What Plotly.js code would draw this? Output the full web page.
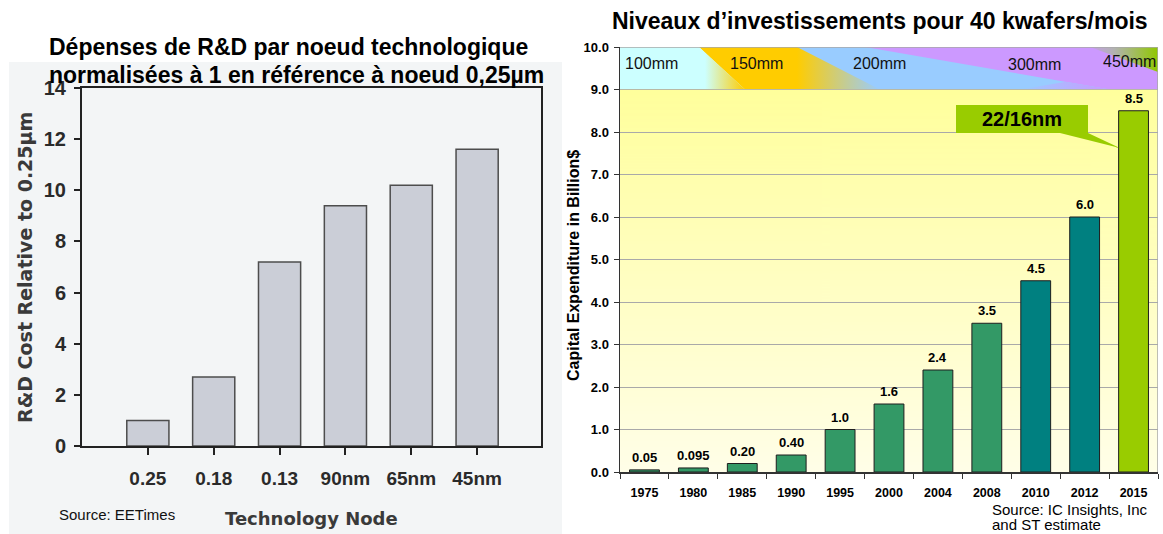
<!DOCTYPE html>
<html><head><meta charset="utf-8">
<script src="https://cdn.plot.ly/plotly-3.0.1.min.js"></script>
<style>html,body{margin:0;padding:0;background:#fff}#chart{width:1163px;height:534px}</style>
</head><body><div id="chart"></div>
<script>
// ---------- left chart data ----------
const nodes = ['0.25', '0.18', '0.13', '90nm', '65nm', '45nm'];
const rdCost = [1.0, 2.7, 7.2, 9.4, 10.2, 11.6];

// ---------- right chart data ----------
const years = ['1975', '1980', '1985', '1990', '1995', '2000', '2004', '2008', '2010', '2012', '2015'];
const capex = [0.05, 0.095, 0.20, 0.40, 1.0, 1.6, 2.4, 3.5, 4.5, 6.0, 8.5];
const capexLabels = ['0.05', '0.095', '0.20', '0.40', '1.0', '1.6', '2.4', '3.5', '4.5', '6.0', '8.5'];
const barGroup = ['g', 'g', 'g', 'g', 'g', 'g', 'g', 'g', 't', 't', 'l'];
const waferSizes = ['100mm', '150mm', '200mm', '300mm', '450mm'];
const calloutText = '22/16nm';

// ---------- styling ----------
const W = 1163, H = 534;
const px = x => x / W;
const py = y => 1 - y / H;
const ARIAL = 'Liberation Sans, Arial, sans-serif';
const NARROW = 'Liberation Sans Narrow, Arial Narrow, Liberation Sans, sans-serif';
const DEJAVU = 'DejaVu Sans, sans-serif';
const groupColor = {g: '#339966', t: '#008080', l: '#99cc00'};
const xIdx = years.map((_, i) => i);

function gradientURL(top, bottom) {
  const c = document.createElement('canvas');
  c.width = 4; c.height = 256;
  const g = c.getContext('2d');
  const gr = g.createLinearGradient(0, 0, 0, 256);
  gr.addColorStop(0, top); gr.addColorStop(1, bottom);
  g.fillStyle = gr; g.fillRect(0, 0, 4, 256);
  return c.toDataURL();
}

// decorative wafer-size band polygons (x in category index units, y in axis units)
const C_CYAN = '#ccffff', C_OR = '#ffcc00', C_BLUE = '#99ccff', C_PUR = '#cc99ff';
const bandShapes = [
  {pts: [[-0.5, 10], [10.5, 10], [10.5, 9], [-0.5, 9]], color: C_CYAN},
  {pts: [[1.115, 10], [3.119, 10], [3.119, 9], [2.056, 9]], color: C_OR},
  {pts: [[1.115, 10], [2.056, 9], [1.238, 9]], grad: [1.238, 2.056, [[0, C_CYAN], [1, C_OR]]]},
  {pts: [[3.119, 10], [10.5, 10], [10.5, 9], [3.119, 9]], color: C_BLUE},
  {pts: [[3.119, 10], [4.816, 9], [3.119, 9]], grad: [3.119, 4.816, [[0, C_OR], [1, C_BLUE]]]},
  {pts: [[4.509, 10], [10.5, 10], [10.5, 9], [9.519, 9]], color: C_PUR},
  {pts: [[7.68, 9], [9.519, 9], [8.617, 9.18]], grad: [7.68, 9.519, [[0, C_BLUE], [1, C_PUR]]]},
  {pts: [[9.11, 10], [10.5, 10], [10.5, 9.41]], grad: [9.11, 10.5, [[0, '#c49ee8'], [0.35, '#b2b2b2'], [1, '#90c800']]]}
];
const bandLabelPos = [[0.154, 9.6], [2.30, 9.6], [4.80, 9.6], [7.965, 9.58], [9.907, 9.66]];

const traces = [];
traces.push({
  type: 'bar', x: nodes, y: rdCost, xaxis: 'x', yaxis: 'y', width: 0.64,
  marker: {color: '#cbced7', line: {color: '#4d4d4d', width: 1.5}},
  hoverinfo: 'skip'
});
traces.push({
  type: 'bar', x: xIdx, y: capex, xaxis: 'x2', yaxis: 'y2', width: 0.61,
  marker: {color: barGroup.map(g => groupColor[g]), line: {color: '#1e1e1e', width: 1}},
  hoverinfo: 'skip'
});
bandShapes.forEach(b => {
  const t = {
    type: 'scatter', mode: 'none', fill: 'toself', xaxis: 'x2', yaxis: 'y2',
    x: b.pts.map(p => p[0]).concat([b.pts[0][0]]),
    y: b.pts.map(p => p[1]).concat([b.pts[0][1]]),
    hoverinfo: 'skip', line: {width: 0}
  };
  if (b.grad) t.fillgradient = {type: 'horizontal', start: b.grad[0], stop: b.grad[1], colorscale: b.grad[2]};
  else t.fillcolor = b.color;
  traces.push(t);
});

function paperText(x, y, text, font, extra) {
  return Object.assign({xref: 'paper', yref: 'paper', x: px(x), y: py(y), xanchor: 'center', yanchor: 'middle',
    showarrow: false, text: text, font: font}, extra || {});
}

const annotations = [];
// titles
annotations.push(paperText(47, 47, 'Dépenses de R&amp;D par noeud technologique',
  {family: ARIAL, size: 23, weight: 'bold', color: '#000'}, {xanchor: 'left'}));
annotations.push(paperText(47, 75, 'normalisées à 1 en référence à noeud 0,25µm',
  {family: ARIAL, size: 23, weight: 'bold', color: '#000'}, {xanchor: 'left'}));
annotations.push(paperText(880, 21, 'Niveaux d’investissements pour 40 kwafers/mois',
  {family: ARIAL, size: 23, weight: 'bold', color: '#000'}));
// left axis titles & source
annotations.push(paperText(25, 268, 'R&amp;D Cost Relative to 0.25µm',
  {family: DEJAVU, size: 19, weight: 'bold', color: '#3a3a3a'}, {textangle: -90}));
annotations.push(paperText(311, 518, 'Technology Node',
  {family: DEJAVU, size: 18, weight: 'bold', color: '#3a3a3a'}));
annotations.push(paperText(57, 514, 'Source: EETimes',
  {family: ARIAL, size: 15, color: '#111'}, {xanchor: 'left'}));
// right axis title & source
annotations.push(paperText(573, 266, 'Capital Expenditure in Billion$',
  {family: ARIAL, size: 16, weight: 'bold', color: '#000'}, {textangle: -90}));
annotations.push(paperText(990, 509, 'Source: IC Insights, Inc',
  {family: ARIAL, size: 15, color: '#000'}, {xanchor: 'left'}));
annotations.push(paperText(990, 524, 'and ST estimate',
  {family: ARIAL, size: 15, color: '#000'}, {xanchor: 'left'}));
// bar value labels
capex.forEach((v, i) => annotations.push({xref: 'x2', yref: 'y2', x: xIdx[i], y: v, xanchor: 'center', yanchor: 'bottom', yshift: 3,
  showarrow: false, text: capexLabels[i], font: {family: NARROW, size: 13, weight: 'bold', color: '#000'}}));
// wafer labels
waferSizes.forEach((w, i) => annotations.push({xref: 'x2', yref: 'y2', x: bandLabelPos[i][0], y: bandLabelPos[i][1],
  xanchor: 'center', yanchor: 'middle', showarrow: false, text: w, font: {family: ARIAL, size: 16, color: '#111'}}));
// callout
annotations.push({xref: 'x2', yref: 'y2', x: 7.72, y: 8.31, xanchor: 'center', yanchor: 'middle', showarrow: false,
  text: calloutText, font: {family: ARIAL, size: 20, weight: 'bold', color: '#000'}});

const shapes = [
  {type: 'rect', xref: 'paper', yref: 'paper', x0: px(9), x1: px(562), y0: 0, y1: py(62), fillcolor: '#f3f5f6', line: {width: 0}, layer: 'below'},
  {type: 'line', xref: 'x2', yref: 'y2', x0: -0.5, x1: 10.5, y0: 9, y1: 9, line: {color: '#b9b9a4', width: 1}, layer: 'above'},
  {type: 'line', xref: 'x2', yref: 'y2', x0: -0.5, x1: 10.5, y0: 10, y1: 10, line: {color: '#a8a8a8', width: 1.5}, layer: 'above'},
  {type: 'line', xref: 'x2', yref: 'y2', x0: 10.5, x1: 10.5, y0: 0, y1: 10, line: {color: '#a8a8a8', width: 1.5}, layer: 'above'},
  {type: 'rect', xref: 'x2', yref: 'y2', x0: 6.37, x1: 9.069, y0: 7.976, y1: 8.635, fillcolor: '#99cc00', line: {width: 0}, layer: 'above'},
  {type: 'path', xref: 'x2', yref: 'y2', path: 'M 8.496 7.976 L 9.069 7.976 L 9.72 7.624 Z', fillcolor: '#99cc00', line: {width: 0}, layer: 'above'}
];

const layout = {
  width: W, height: H, margin: {l: 0, r: 0, t: 0, b: 0}, autosize: false,
  paper_bgcolor: '#ffffff', plot_bgcolor: 'rgba(0,0,0,0)', showlegend: false, hovermode: false,
  font: {family: ARIAL},
  xaxis: {domain: [px(82), px(541)], anchor: 'y', type: 'category', range: [-1, 5.97],
    ticks: 'outside', ticklen: 7, tickwidth: 2, tickcolor: '#222', showline: true, linewidth: 2, linecolor: '#222', mirror: true,
    showgrid: false, zeroline: false, ticklabelstandoff: 7,
    tickfont: {family: ARIAL, size: 19, weight: 'bold', color: '#2a2a2a'}},
  yaxis: {domain: [py(446), py(88)], anchor: 'x', range: [0, 14], dtick: 2,
    ticks: 'outside', ticklen: 6, tickwidth: 2, tickcolor: '#222', showline: true, linewidth: 2, linecolor: '#222', mirror: true,
    showgrid: false, zeroline: false, ticklabelstandoff: 4,
    tickfont: {family: ARIAL, size: 20, weight: 'bold', color: '#2a2a2a'}},
  xaxis2: {domain: [px(620), px(1158)], anchor: 'y2', range: [-0.5, 10.5], tickmode: 'array', tickvals: xIdx, ticktext: years,
    ticks: '', showline: true, linewidth: 1.5, linecolor: '#333', showgrid: false, zeroline: false, ticklabelstandoff: 8,
    minor: {tick0: -0.5, dtick: 1, ticks: 'outside', ticklen: 5, tickcolor: '#333', tickwidth: 1, showgrid: false},
    tickfont: {family: NARROW, size: 12.5, weight: 'bold', color: '#000'}},
  yaxis2: {domain: [py(472), py(47)], anchor: 'x2', range: [0, 10], dtick: 1, tickformat: '.1f',
    ticks: 'outside', ticklen: 5, tickcolor: '#333', showline: true, linewidth: 1.5, linecolor: '#333',
    showgrid: true, gridcolor: '#a9a9a9', gridwidth: 1, zeroline: false, ticklabelstandoff: 2,
    tickfont: {family: ARIAL, size: 13, weight: 'bold', color: '#000'}},
  images: [{source: gradientURL('#ffff9c', '#fffee8'), xref: 'x2', yref: 'y2', x: -0.5, y: 9, sizex: 11, sizey: 9,
    sizing: 'stretch', xanchor: 'left', yanchor: 'top', layer: 'below'}],
  shapes: shapes,
  annotations: annotations
};

Plotly.newPlot('chart', traces, layout, {staticPlot: true, displayModeBar: false});
</script>
</body></html>
